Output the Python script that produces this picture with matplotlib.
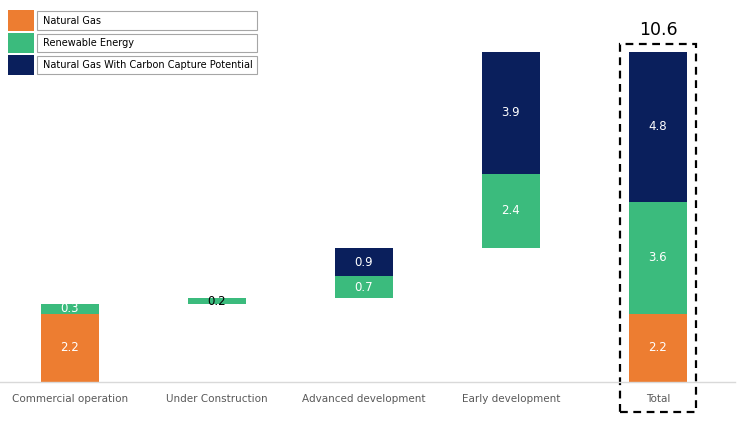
import matplotlib
matplotlib.use("Agg")
import matplotlib.pyplot as plt
from matplotlib.patches import Rectangle
import numpy as np

categories = ["Commercial operation", "Under Construction", "Advanced development", "Early development", "Total"]
natural_gas = [2.2, 0.0, 0.0, 0.0, 2.2]
renewable = [0.3, 0.2, 0.7, 2.4, 3.6]
ccs = [0.0, 0.0, 0.9, 3.9, 4.8]
total_label = "10.6"
series_names = ["Natural Gas", "Renewable Energy", "Natural Gas With Carbon Capture Potential"]

C_NG = "#ED7D31"
C_RE = "#3BBB7D"
C_CC = "#0A1F5C"

fig = plt.figure(figsize=(7.4, 4.29), dpi=100)
ax = fig.add_axes([0, 47/429, 735/740, 382/429])

ng = np.array(natural_gas); re = np.array(renewable); cc = np.array(ccs)
step_tot = ng + re + cc
base = np.concatenate([[0], np.cumsum(step_tot[:-2])])
base = np.append(base, 0.0)
x = np.arange(len(categories))
w = 0.4

ax.bar(x, ng, w, bottom=base, color=C_NG)
ax.bar(x, re, w, bottom=base + ng, color=C_RE)
ax.bar(x, cc, w, bottom=base + ng + re, color=C_CC)

for i in range(len(x)):
    if ng[i] > 0:
        ax.text(x[i], base[i] + ng[i]/2, f"{ng[i]:.1f}", ha="center", va="center", color="white", fontsize=8.5)
    if re[i] > 0:
        col = "black" if re[i] < 0.25 else "white"
        ax.text(x[i], base[i] + ng[i] + re[i]/2, f"{re[i]:.1f}", ha="center", va="center", color=col, fontsize=8.5)
    if cc[i] > 0:
        ax.text(x[i], base[i] + ng[i] + re[i] + cc[i]/2, f"{cc[i]:.1f}", ha="center", va="center", color="white", fontsize=8.5)

ax.set_xlim(-0.476, 4.524)
ax.set_ylim(0, 12.28)
ax.set_xticks(x)
ax.set_xticklabels(categories, fontsize=7.5, color="#595959")
ax.tick_params(axis="x", length=0, pad=9)
ax.set_yticks([])
for s in ["top", "right", "left"]:
    ax.spines[s].set_visible(False)
ax.spines["bottom"].set_color("#D9D9D9")
ax.spines["bottom"].set_linewidth(1)

# dashed box around total
box = Rectangle((4 - 0.26, -0.96), 0.52, 10.87 + 0.96, fill=False, ls=(0, (3.5, 2.5)),
                lw=1.6, ec="black", clip_on=False)
ax.add_patch(box)
ax.text(4, 10.87 + 0.15, total_label, ha="center", va="bottom", fontsize=12.5, color="black")

# legend
sw_colors = [C_NG, C_RE, C_CC]
rows = [(10, 31), (33, 53), (55, 75)]
H = 429
for (y0, y1), col, name in zip(rows, sw_colors, series_names):
    fig.add_artist(Rectangle((8/740, 1 - y1/H), 26/740, (y1 - y0)/H, transform=fig.transFigure,
                             fc=col, ec="none"))
    fig.add_artist(Rectangle((37/740, 1 - (y1 - 1)/H), 220/740, (y1 - y0 - 2)/H, transform=fig.transFigure,
                             fc="white", ec="#A6A6A6", lw=0.8))
    fig.text(43/740, 1 - ((y0 + y1)/2)/H, name, ha="left", va="center", fontsize=7, color="black")

fig.savefig("out.png", dpi=100)
